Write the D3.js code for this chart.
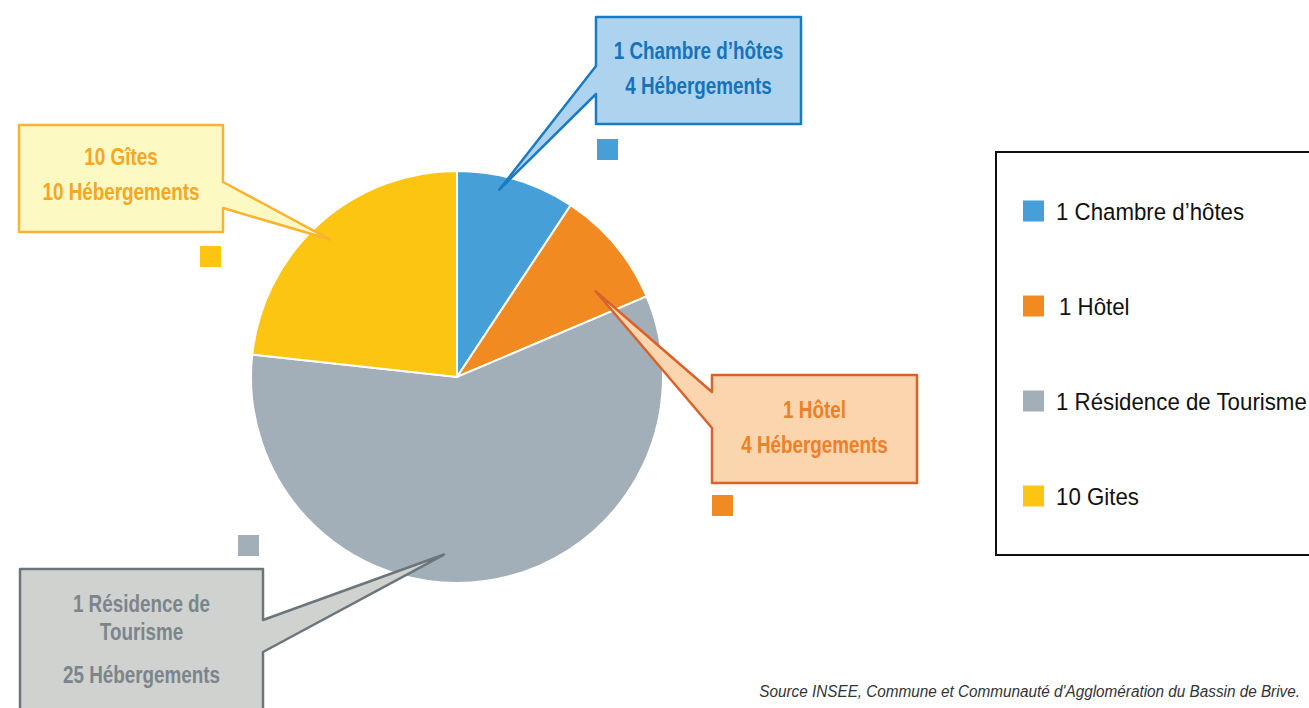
<!DOCTYPE html>
<html>
<head>
<meta charset="utf-8">
<script src="https://cdn.jsdelivr.net/npm/d3@7"></script>
<style>
  body { margin: 0; background: #fff; }
  svg { display: block; }
  .legend text { font-family: "Liberation Sans", Arial, sans-serif; font-size: 22.5px; fill: #111; }
  .callout text { font-family: "Liberation Sans", Arial, sans-serif; font-weight: bold; font-size: 23px; text-anchor: middle; }
  .source { font-family: "Liberation Sans", Arial, sans-serif; font-style: italic; font-size: 17px; fill: #333; }
</style>
</head>
<body>
<div id="chart"></div>
<script>
// data
var categories = ["1 Chambre d’hôtes", "1 Hôtel", "1 Résidence de Tourisme", "10 Gites"];
var hebergements = [4, 4, 25, 10];
var calloutTitles = [["1 Chambre d’hôtes"], ["1 Hôtel"], ["1 Résidence de", "Tourisme"], ["10 Gîtes"]];
var SOURCE = "Source INSEE, Commune et Communauté d'Agglomération du Bassin de Brive.";

var colors = ["#479fd8", "#f28a22", "#a3afb8", "#fcc512"];
var boxFill = ["#aed3ef", "#fbd5ae", "#d0d2cf", "#fdf9c3"];
var boxStroke = ["#1a7bc5", "#d9622a", "#6b767c", "#f9b232"];
var boxText = ["#1473bb", "#ee8026", "#7b858b", "#f5a623"];

var width = 1309, height = 708;
var cx = 457, cy = 377, radius = 206;
var NARROW = 0.82; // condensed look of the original font

// callout layout: box, side of the tail, tail base, tip position inside slice (fraction, radius)
var callouts = [
  {x0: 596, y0: 17, x1: 801, y1: 124, side: "left", t0: 66, t1: 94, f: 0.38, r: 192, lines: [59, 94], key: [597, 139]},
  {x0: 712, y0: 375, x1: 917, y1: 483, side: "left", t0: 392, t1: 428, f: 0.74, r: 163, lines: [418, 453], key: [712, 495]},
  {x0: 20, y0: 569, x1: 263, y1: 720, side: "right", t0: 620, t1: 652, f: 0.56, r: 178, lines: [612, 640, 683], key: [238, 535]},
  {x0: 19, y0: 125, x1: 223, y1: 232, side: "right", t0: 182, t1: 208, f: 0.49, r: 187, lines: [165, 200], key: [200, 246]}
];

var svg = d3.select("#chart").append("svg")
  .attr("width", width)
  .attr("height", height);

var pie = d3.pie().sort(null).value(function(d) { return d; });
var arcs = pie(hebergements);
var arc = d3.arc().innerRadius(0).outerRadius(radius);

var g = svg.append("g").attr("transform", "translate(" + cx + "," + cy + ")");

g.selectAll("path.slice")
  .data(arcs)
  .enter().append("path")
    .attr("class", "slice")
    .attr("d", arc)
    .attr("fill", function(d, i) { return colors[i]; })
    .attr("stroke", "#fff")
    .attr("stroke-width", 2);

// callouts
function calloutPath(c, tip) {
  if (c.side == "left") {
    return "M" + c.x0 + "," + c.y0 + "H" + c.x1 + "V" + c.y1 + "H" + c.x0 +
      "V" + c.t1 + "L" + tip[0] + "," + tip[1] + "L" + c.x0 + "," + c.t0 + "Z";
  }
  return "M" + c.x0 + "," + c.y0 + "H" + c.x1 + "V" + c.t0 +
    "L" + tip[0] + "," + tip[1] + "L" + c.x1 + "," + c.t1 + "V" + c.y1 + "H" + c.x0 + "Z";
}

arcs.forEach(function(a, i) {
  var c = callouts[i];
  var ang = a.startAngle + (a.endAngle - a.startAngle) * c.f;
  var tip = [cx + c.r * Math.sin(ang), cy - c.r * Math.cos(ang)];

  var cg = svg.append("g").attr("class", "callout");
  cg.append("path")
    .attr("d", calloutPath(c, tip))
    .attr("fill", boxFill[i])
    .attr("stroke", boxStroke[i])
    .attr("stroke-width", 2.5)
    .attr("stroke-linejoin", "round");

  var lines = calloutTitles[i].concat([hebergements[i] + " Hébergements"]);
  var mid = (c.x0 + c.x1) / 2;
  lines.forEach(function(t, k) {
    cg.append("text")
      .attr("transform", "translate(" + mid + "," + c.lines[k] + ") scale(" + NARROW + ",1)")
      .attr("fill", boxText[i])
      .text(t);
  });

  // small key square next to the label
  svg.append("rect")
    .attr("x", c.key[0]).attr("y", c.key[1])
    .attr("width", 21).attr("height", 21)
    .attr("fill", colors[i]);
});

// legend
var legend = svg.append("g").attr("class", "legend");
legend.append("rect")
  .attr("x", 996).attr("y", 152)
  .attr("width", 330).attr("height", 403)
  .attr("fill", "none")
  .attr("stroke", "#111")
  .attr("stroke-width", 2);

var ly = d3.scalePoint().domain(categories).range([211, 496]);
var item = legend.selectAll("g.item")
  .data(categories)
  .enter().append("g")
    .attr("class", "item")
    .attr("transform", function(d) { return "translate(1023," + ly(d) + ")"; });

item.append("rect")
  .attr("x", 0).attr("y", -10.5)
  .attr("width", 21).attr("height", 21)
  .attr("fill", function(d, i) { return colors[i]; });

item.append("text")
  .attr("transform", function(d, i) { return "translate(" + (i == 1 ? 36 : 33) + ",9) scale(0.99,1.06)"; })
  .text(function(d) { return d; });

svg.append("text")
  .attr("class", "source")
  .attr("transform", "translate(1300,697) scale(0.9,1)")
  .attr("text-anchor", "end")
  .text(SOURCE);
</script>
</body>
</html>
